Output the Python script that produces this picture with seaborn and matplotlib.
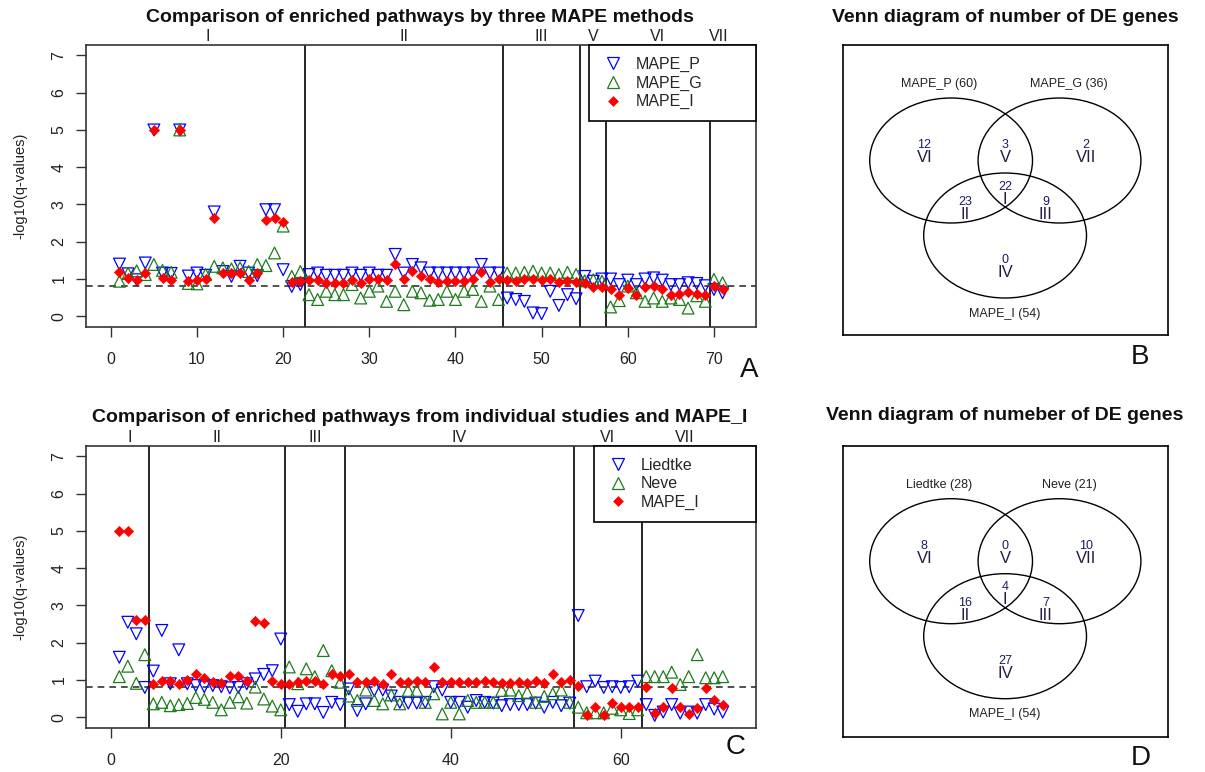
import numpy as np
import pandas as pd
import matplotlib
matplotlib.use("Agg")
import matplotlib.pyplot as plt
import matplotlib.transforms as mtransforms
from matplotlib.patches import Ellipse
from matplotlib.lines import Line2D
import seaborn as sns

# ---------------- data ----------------
# Panel A: -log10(q) of 71 pathways, three MAPE methods
mape_p_A = [1.40, 1.14, 0.98, 1.43, 5.00, 1.16, 1.15, 5.00, 1.08, 1.16,
            1.10, 2.80, 1.20, 1.07, 1.34, 1.16, 1.09, 2.86, 2.86, 1.25,
            0.80, 0.85, 1.12, 1.16, 1.10, 1.10, 1.10, 1.16, 1.10, 1.16,
            1.10, 1.10, 1.66, 1.16, 1.39, 1.30, 1.16, 1.16, 1.16, 1.16,
            1.16, 1.16, 1.39, 1.16, 1.16, 0.49, 0.45, 0.40, 0.09, 0.07,
            0.67, 0.29, 0.58, 0.47, 1.07, 0.94, 1.00, 1.00, 0.85, 0.97,
            0.85, 1.00, 1.03, 0.97, 0.85, 0.85, 0.90, 0.88, 0.82, 0.72,
            0.63]
mape_g_A = [0.94, 1.15, 1.22, 1.12, 1.39, 1.23, 1.18, 5.00, 0.88, 0.87,
            1.12, 1.34, 1.30, 1.27, 1.30, 1.20, 1.39, 1.36, 1.70, 2.42,
            1.07, 1.20, 0.58, 0.45, 0.67, 0.58, 0.58, 0.85, 0.49, 0.67,
            0.81, 0.40, 0.67, 0.31, 0.67, 0.63, 0.43, 0.45, 0.67, 0.45,
            0.67, 0.72, 0.40, 0.81, 0.45, 1.16, 1.16, 1.18, 1.21, 1.16,
            1.16, 1.12, 1.18, 1.12, 0.95, 0.98, 0.94, 0.25, 0.42, 0.81,
            0.63, 0.40, 0.49, 0.40, 0.49, 0.45, 0.22, 0.55, 0.40, 0.99,
            0.90]
mape_i_A = [1.18, 1.03, 0.98, 1.15, 5.00, 1.02, 0.98, 5.00, 0.94, 0.98,
            1.00, 2.64, 1.15, 1.15, 1.15, 0.98, 1.15, 2.58, 2.64, 2.52,
            0.91, 0.94, 0.98, 0.98, 0.90, 0.90, 0.90, 0.97, 0.90, 0.99,
            0.99, 0.97, 1.39, 0.99, 1.21, 1.09, 0.99, 0.91, 0.94, 0.94,
            0.94, 0.99, 1.18, 0.91, 0.99, 0.97, 0.94, 0.99, 0.99, 0.97,
            0.99, 0.91, 0.94, 0.91, 0.88, 0.79, 0.79, 0.73, 0.58, 0.76,
            0.58, 0.79, 0.82, 0.72, 0.58, 0.61, 0.65, 0.61, 0.58, 0.82,
            0.73]

# Panel C: -log10(q) of 72 pathways, two studies and MAPE_I
liedtke_C = [1.61, 2.55, 2.24, 0.80, 1.24, 2.33, 0.90, 1.81, 0.90, 0.85,
             0.82, 0.85, 0.82, 0.79, 0.80, 0.90, 1.03, 1.15, 1.25, 2.10,
             0.34, 0.16, 0.36, 0.36, 0.13, 0.40, 0.34, 0.76, 0.18, 0.36,
             0.72, 0.73, 0.57, 0.40, 0.38, 0.38, 0.40, 0.82, 0.73, 0.40,
             0.40, 0.27, 0.45, 0.40, 0.38, 0.31, 0.34, 0.34, 0.34, 0.38,
             0.27, 0.40, 0.31, 0.38, 2.73, 0.82, 0.97, 0.80, 0.82, 0.80,
             0.82, 0.97, 0.34, 0.05, 0.14, 0.34, 0.11, 0.14, 0.11, 0.34,
             0.22, 0.14]
neve_C = [1.09, 1.37, 0.91, 1.68, 0.36, 0.40, 0.31, 0.34, 0.37, 0.53,
          0.48, 0.40, 0.20, 0.40, 0.55, 0.38, 0.81, 0.49, 0.30, 0.20,
          1.35, 0.90, 1.30, 1.09, 1.79, 1.25, 0.94, 0.57, 0.45, 0.73,
          0.45, 0.36, 0.60, 0.36, 0.72, 0.72, 0.40, 0.63, 0.09, 0.40,
          0.09, 0.45, 0.40, 0.40, 0.40, 0.72, 0.73, 0.58, 0.67, 0.40,
          0.56, 0.63, 0.73, 0.40, 0.27, 0.12, 0.12, 0.12, 0.24, 0.20,
          0.10, 0.20, 1.09, 1.09, 1.09, 1.21, 0.88, 1.09, 1.68, 1.06,
          1.06, 1.09]
mape_i_C = [5.00, 5.00, 2.61, 2.61, 0.90, 0.98, 0.98, 0.90, 0.99, 1.16,
            1.06, 0.95, 0.92, 1.12, 1.12, 0.98, 2.58, 2.52, 0.96, 0.90,
            0.90, 0.95, 0.96, 0.96, 0.90, 1.15, 1.12, 1.15, 0.95, 0.95,
            0.98, 0.90, 1.16, 0.94, 0.94, 0.98, 0.94, 1.36, 0.94, 0.94,
            0.94, 0.94, 0.94, 0.98, 0.94, 0.91, 0.91, 0.94, 0.91, 0.98,
            0.91, 1.16, 0.94, 1.00, 0.83, 0.05, 0.27, 0.05, 0.37, 0.27,
            0.27, 0.27, 0.82, 0.12, 0.27, 0.79, 0.28, 0.09, 0.25, 0.79,
            0.45, 0.33]

# Venn regions (same order as the pathway groups along the x axis)
region_names = ["I", "II", "III", "IV", "V", "VI", "VII"]
counts_A = [22, 23, 9, 0, 3, 12, 2]
counts_C = [4, 16, 7, 27, 0, 8, 10]
sets_A = ["MAPE_P", "MAPE_G", "MAPE_I"]
sets_C = ["Liedtke", "Neve", "MAPE_I"]
# membership of each region in (set1, set2, set3)
region_membership = {"I": (1, 1, 1), "II": (1, 0, 1), "III": (0, 1, 1), "IV": (0, 0, 1),
                     "V": (1, 1, 0), "VI": (1, 0, 0), "VII": (0, 1, 0)}
q_cutoff = 0.15

titles = ["Comparison of enriched pathways by three MAPE methods",
          "Venn diagram of number of DE genes",
          "Comparison of enriched pathways from individual studies and MAPE_I",
          "Venn diagram of numeber of DE genes"]

# ---------------- style ----------------
sns.set_style("white")
plt.rcParams['font.family'] = ['Liberation Sans', 'DejaVu Sans']

W, H = 1205, 772
fig = plt.figure(figsize=(W / 100, H / 100), dpi=100)


def rect(l, t, r, b):
    return [l / W, 1 - b / H, (r - l) / W, (b - t) / H]


def ftext(px, py, s, **kw):
    fig.text(px / W, 1 - py / H, s, ha='center', va='center', **kw)


BLUE = '#0000FF'
GREEN = '#1E7B1E'
RED = '#FF0000'
styles = [dict(marker='v', s=72, facecolor='none', edgecolor=BLUE, linewidth=0.9),
          dict(marker='^', s=72, facecolor='none', edgecolor=GREEN, linewidth=0.9),
          dict(marker='D', s=28, color=RED, edgecolor=RED, linewidth=0.4)]
handles = [Line2D([], [], ls='none', marker='v', ms=8.5, mfc='none', mec=BLUE, mew=0.9),
           Line2D([], [], ls='none', marker='^', ms=8.5, mfc='none', mec=GREEN, mew=0.9),
           Line2D([], [], ls='none', marker='D', ms=5.3, mfc=RED, mec=RED, mew=0.4)]


def scatter_panel(box, names, series, counts, xticks, leg_w, leg_h):
    ax = fig.add_axes(rect(*box))
    n = len(series[0])
    df = pd.DataFrame({"pathway": np.tile(np.arange(1, n + 1), 3),
                       "value": np.concatenate(series),
                       "method": np.repeat(names, n)})
    for name, st in zip(names, styles):
        sns.scatterplot(data=df[df.method == name], x="pathway", y="value",
                        ax=ax, legend=False, zorder=3, **st)
    xmax = n + 1
    ax.set_xlim(-0.04 * xmax, 1.04 * xmax)
    ax.set_ylim(-0.28, 7.28)
    ax.set_xticks(xticks)
    ax.set_yticks(range(8))
    ax.set_xlabel("")
    ax.set_ylabel("")
    ax.tick_params(axis='both', which='both', bottom=True, left=True, direction='out',
                   length=7, width=1, color='#333333', labelcolor='#222222', labelsize=11.5)
    ax.tick_params(axis='x', pad=11.5)
    ax.tick_params(axis='y', pad=7)
    for lab in ax.get_yticklabels():
        lab.set_rotation(90)
        lab.set_va('center')
    for sp in ax.spines.values():
        sp.set_color('#333333')
        sp.set_linewidth(1.2)
    ax.axhline(-np.log10(q_cutoff), color='#333333', lw=1.2, ls=(0, (4, 3)), zorder=2)
    # group boundaries and labels
    trans = mtransforms.blended_transform_factory(ax.transData, ax.transAxes)
    ends = np.cumsum(counts)
    starts = ends - np.array(counts)
    for g, c, s0, e in zip(region_names, counts, starts, ends):
        if c == 0:
            continue
        left = s0 + 0.5 if s0 > 0 else 0
        right = e + 0.5
        ax.text((left + right) / 2, 1.03, g, transform=trans, ha='center', va='center',
                fontsize=11.5, color='#222222')
        if e < n:
            ax.axvline(e + 0.5, color='black', lw=1.2, zorder=2)
    leg = ax.legend(handles, names, loc='upper right',
                    bbox_to_anchor=(1 - leg_w, 1 - leg_h, leg_w, leg_h), mode='expand',
                    borderaxespad=0, frameon=True, fancybox=False, edgecolor='black',
                    framealpha=1, fontsize=11.5, handlelength=1.45, handletextpad=0.74,
                    borderpad=0.75, labelspacing=0.22)
    leg.get_frame().set_linewidth(1.2)
    leg.set_zorder(5)
    ax.text(-0.0975, 0.5, "-log10(q-values)", transform=ax.transAxes, rotation=90,
            ha='center', va='center', fontsize=10.5, color='#222222')
    return ax


scatter_panel((86, 45, 756, 326.7), sets_A, [mape_p_A, mape_g_A, mape_i_A], counts_A,
              range(0, 71, 10), 167 / 670, 75 / 281.7)
scatter_panel((86, 446, 756, 727.7), sets_C, [liedtke_C, neve_C, mape_i_C], counts_C,
              range(0, 61, 20), 162 / 670, 74 / 281.7)

# ---------------- Venn panels ----------------
centers = [(108.4, 115.5), (216.8, 115.5), (162.4, 190.5)]
rx, ry = 81.4, 62.5
set_label_pos = [(96.3, 39.3), (226.3, 39.3), (161.6, 268.5)]
region_pos = {"VI": (81.6, 100.3), "V": (162.4, 100.3), "VII": (243.0, 100.3),
              "I": (162.4, 141.7), "II": (122.2, 157.0), "III": (203.0, 157.0),
              "IV": (162.4, 215.0)}


def venn_panel(box, set_names, counts):
    ax = fig.add_axes(rect(*box))
    w = box[2] - box[0]
    h = box[3] - box[1]
    ax.set_xlim(0, w)
    ax.set_ylim(h, 0)
    ax.set_xticks([])
    ax.set_yticks([])
    for sp in ax.spines.values():
        sp.set_color('black')
        sp.set_linewidth(1.2)
    for c in centers:
        ax.add_patch(Ellipse(c, 2 * rx, 2 * ry, fill=False, ec='black', lw=1.0))
    cnt = dict(zip(region_names, counts))
    for k, (name, pos) in enumerate(zip(set_names, set_label_pos)):
        total = sum(cnt[r] for r in region_names if region_membership[r][k])
        ax.text(pos[0], pos[1], f"{name} ({total})", ha='center', va='center',
                fontsize=9, color='#222222')
    for r in region_names:
        x, y = region_pos[r]
        ax.text(x, y, str(cnt[r]), ha='center', va='center', fontsize=9, color='#1c1c5c')
        ax.text(x, y + 12.5, r, ha='center', va='center', fontsize=12, color='#2b1b45')
    return ax


venn_panel((842.7, 45, 1167.7, 335), sets_A, counts_A)
venn_panel((842.7, 445.7, 1167.7, 736.7), sets_C, counts_C)

# titles and panel letters
ftext(420, 17, titles[0], fontsize=14, fontweight='bold', color='#111111')
ftext(1005, 17, titles[1], fontsize=14, fontweight='bold', color='#111111')
ftext(420, 417, titles[2], fontsize=14, fontweight='bold', color='#111111')
ftext(1005, 415, titles[3], fontsize=14, fontweight='bold', color='#111111')
for letter, (px, py) in zip("ABCD", [(749.3, 370), (1140, 356.7), (736, 746.7), (1140.7, 758.3)]):
    ftext(px, py, letter, fontsize=20, color='#111111')

fig.savefig("out.png", dpi=100)
